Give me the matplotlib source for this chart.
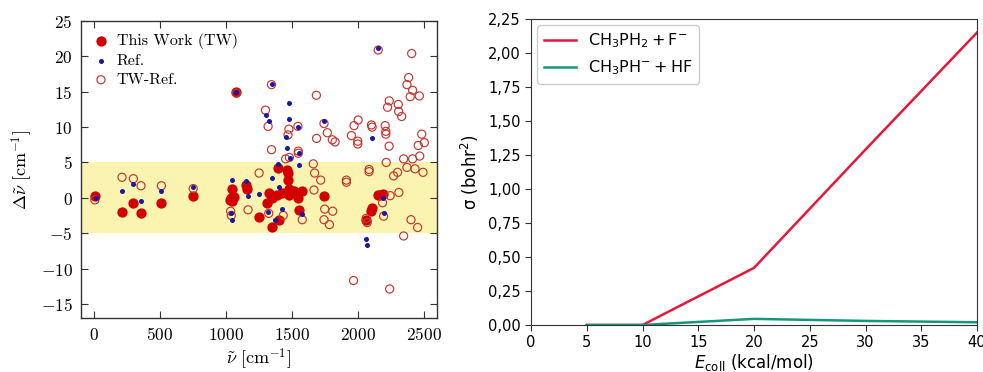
import matplotlib
matplotlib.use("Agg")
import matplotlib.pyplot as plt
from matplotlib.ticker import FuncFormatter, MultipleLocator

plt.rcParams["mathtext.fontset"] = "cm"
plt.rcParams["axes.unicode_minus"] = True

# ---- vibrational frequency deviations ----
tw_nu = [5, 211, 297, 355, 510, 751, 1033, 1038, 1045, 1048, 1058, 1078, 1154, 1160,
         1248, 1307, 1325, 1350, 1345, 1401, 1396, 1388, 1426, 1459, 1464, 1468, 1472,
         1476, 1480, 1515, 1545, 1578, 1553, 1743, 2065, 2103, 2110, 2149, 2170, 2187]
tw_dev = [0.3, -2.0, -0.7, -2.1, -0.7, 0.2, -0.3, 0.0, 1.2, -0.5, 0.1, 15.0, 1.8, 1.2,
          -2.7, -0.75, 0.7, 0.0, -4.1, -3.1, 4.2, 0.4, 0.7, 0.7, 4.0, 3.5, 2.5,
          1.3, 0.4, 0.9, -0.1, 0.9, -1.7, 0.3, -3.1, -1.9, -1.5, 0.4, 0.4, 0.5]

ref_nu = [10, 211, 297, 355, 510, 751, 1038, 1045, 1048, 1078, 1154, 1164, 1248, 1301,
          1323, 1322, 1345, 1345, 1375, 1395, 1398, 1428, 1456, 1461, 1477, 1475, 1482,
          1548, 1553, 1553, 1575, 1746, 2060, 2070, 2109, 2154, 2187, 2195]
ref_dev = [-0.1, 0.9, 2.0, -0.4, 0.9, 1.5, -2.1, -3.2, 2.5, 15.0, 2.4, 0.2, 0.6, 11.7,
           10.8, -2.0, 16.1, 2.8, -3.1, 4.8, 1.5, -1.6, 8.6, 7.0, 13.4, 11.2, 5.6,
           10.0, 6.4, 4.6, -2.3, 10.8, -5.8, -6.7, 8.4, 21.2, -0.1, -2.2]

diff_nu = [5, 211, 297, 355, 510, 751, 1035, 1040, 1078, 1167, 1251, 1299, 1319, 1345,
           1345, 1324, 1434, 1452, 1470, 1477, 1480, 1545, 1548, 1548, 1578, 1662, 1672,
           1685, 1687, 1667, 1718, 1743, 1748, 1743, 1768, 1784, 1806, 1809, 1827, 1913,
           1913, 1951, 1971, 1967, 1999, 1999, 2002, 2063, 2070, 2085, 2085, 2103, 2108,
           2154, 2187, 2195, 2207, 2212, 2212, 2215, 2225, 2238, 2237, 2245, 2241, 2271,
           2301, 2306, 2309, 2311, 2332, 2347, 2347, 2372, 2372, 2385, 2397, 2403, 2408,
           2415, 2415, 2433, 2453, 2458, 2466, 2469, 2484, 2494, 2504]
diff_dev = [-0.3, 2.9, 2.7, 1.7, 1.7, 1.3, -1.9, -2.5, 14.8, -1.7, 3.5, 12.4, 10.1, 6.8,
            16.0, -2.2, -2.5, 5.5, 8.9, 9.7, 5.7, 10.1, 6.6, 6.3, -3.1, 4.8, 3.5,
            14.5, 8.4, 1.1, 2.5, 10.5, -1.6, -3.1, 9.2, -3.8, 8.2, -1.9, 7.9, 2.5,
            2.2, 8.8, 10.2, -11.7, 8.0, 7.6, 11.0, -2.9, -3.5, 4.0, 3.7, 10.3, 10.0,
            20.9, -0.7, -2.6, 10.2, 9.4, 9.0, 5.0, 12.8, 13.7, 7.3, 0.3, -12.9, 3.1,
            3.6, 13.2, 12.2, 0.75, 11.5, 5.5, -5.4, 4.3, 16.0, 17.0, 14.3, -3.1, 20.4,
            15.2, 5.5, 4.1, -4.2, 7.4, 14.4, 5.9, 9.0, 3.6, 7.8]

band_low, band_high = -5, 5

# ---- collision cross sections ----
e_coll = [5, 10, 20, 30, 40]
sigma_f = [0.0, 0.0, 0.42, 1.29, 2.15]
sigma_hf = [0.0, 0.0, 0.045, 0.03, 0.02]

fig = plt.figure(figsize=(9.83, 3.72), dpi=100)

# left panel
ax1 = fig.add_axes([81 / 983, 1 - 318 / 372, 356 / 983, 297 / 372])
ax1.axhspan(band_low, band_high, color="#fbf4b0", lw=0, zorder=0)
ax1.scatter(tw_nu, tw_dev, s=55, color="#d20000", lw=0, zorder=2, label="This Work (TW)")
ax1.scatter(ref_nu, ref_dev, s=13, color="#1a16a6", lw=0, zorder=4, label="Ref.")
ax1.scatter(diff_nu, diff_dev, s=34, facecolor="none", edgecolor="#c4372f", lw=0.85,
            zorder=3, label="TW-Ref.")
ax1.set_xlim(-100, 2600)
ax1.set_ylim(-17, 25)
ax1.xaxis.set_major_locator(MultipleLocator(500))
ax1.yaxis.set_major_locator(MultipleLocator(5))
mfmt = FuncFormatter(lambda v, p: r"$%d$" % round(v))
ax1.xaxis.set_major_formatter(mfmt)
ax1.yaxis.set_major_formatter(mfmt)
ax1.tick_params(direction="in", top=True, right=True, labelsize=12.5, length=5,
                color="#333333", pad=6)
for sp in ax1.spines.values():
    sp.set_color("#333333")
    sp.set_linewidth(1.0)
ax1.set_xlabel(r"$\tilde{\nu}\ [\mathrm{cm}^{-1}]$", fontsize=13, labelpad=2)
ax1.set_ylabel(r"$\Delta\tilde{\nu}\ [\mathrm{cm}^{-1}]$", fontsize=13, labelpad=4)
leg1 = ax1.legend(loc="upper left", frameon=False, prop={"family": "cmr10", "size": 11.5},
                  handletextpad=0.5, labelspacing=0.3, borderaxespad=0.35,
                  handlelength=1.0, scatterpoints=1)

# right panel
ax2 = fig.add_axes([531 / 983, 1 - 325 / 372, 446 / 983, 306 / 372])
ax2.plot(e_coll, sigma_f, color="#e8173a", lw=1.8, label=r"CH$_3$PH$_2 + $F$^{-}$")
ax2.plot(e_coll, sigma_hf, color="#12987a", lw=1.8, label=r"CH$_3$PH$^{-} + $HF")
ax2.set_xlim(0, 40)
ax2.set_ylim(0, 2.25)
ax2.xaxis.set_major_locator(MultipleLocator(5))
ax2.yaxis.set_major_locator(MultipleLocator(0.25))
ax2.yaxis.set_major_formatter(FuncFormatter(lambda v, p: f"{v:.2f}".replace(".", ",")))
ax2.tick_params(labelsize=10.5, length=4, color="#333333")
for sp in ax2.spines.values():
    sp.set_color("#333333")
xl = ax2.set_xlabel(r"$E_{\mathrm{coll}}$ (kcal/mol)", fontsize=12, labelpad=1)
xl.set_math_fontfamily("dejavusans")
ax2.set_ylabel("σ (bohr$^2$)", fontsize=12, labelpad=5).set_math_fontfamily("dejavusans")
leg2 = ax2.legend(loc="upper left", fontsize=11.5, framealpha=1, edgecolor="#cccccc",
                  borderaxespad=0.4, handlelength=2.0)
for t in leg2.get_texts():
    t.set_math_fontfamily("dejavusans")

fig.savefig("out.png", dpi=100)
